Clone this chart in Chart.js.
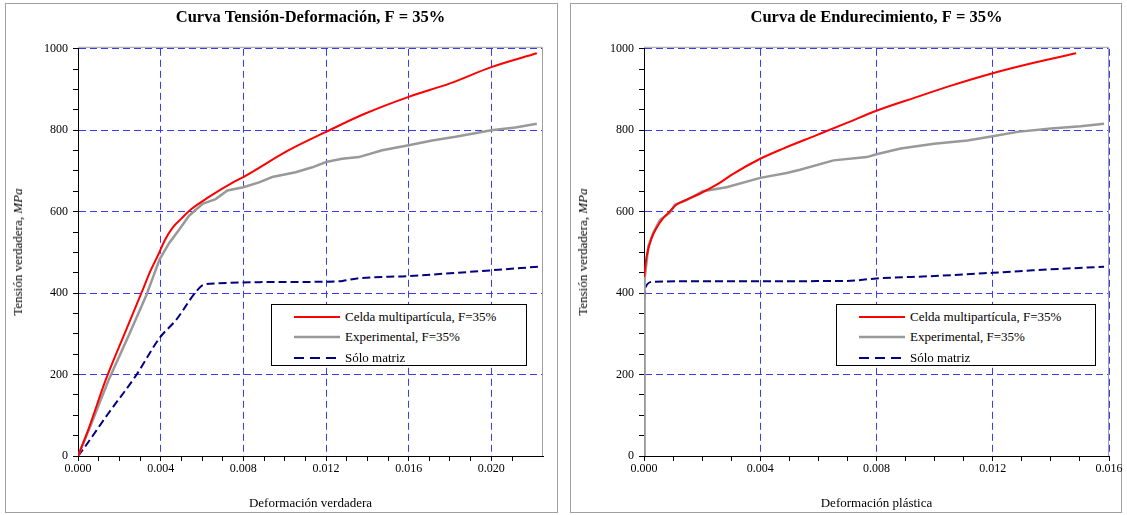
<!DOCTYPE html>
<html>
<head>
<meta charset="utf-8">
<script src="https://cdn.jsdelivr.net/npm/chart.js@4.4.1/dist/chart.umd.min.js"></script>
<style>
  body { margin: 0; background: #fff; width: 1127px; height: 515px; position: relative; overflow: hidden;
         font-family: "Liberation Serif", "Times New Roman", serif; color: #000; }
  .panel { position: absolute; border: 1px solid #a0a0a0; box-sizing: border-box; }
  canvas { position: absolute; }
  .ytitle { position: absolute; font-size: 13px; white-space: nowrap; transform: translate(-50%, -50%) rotate(-90deg); }
  .legend { position: absolute; border: 1px solid #000; box-sizing: border-box; background: #fff; font-size: 13px; }
  .legend .row { position: absolute; left: 0; right: 0; height: 20px; line-height: 20px; white-space: nowrap; }
</style>
</head>
<body>
<div class="panel" style="left:5px;top:3px;width:553px;height:510px"></div>
<div class="panel" style="left:570px;top:3px;width:552px;height:510px"></div>
<canvas id="c1" width="551" height="508" style="left:6px;top:4px"></canvas>
<canvas id="c2" width="556" height="508" style="left:571px;top:4px"></canvas>
<div class="ytitle" style="left:18px;top:252px">Tensión verdadera, <i>MPa</i></div>
<div class="ytitle" style="left:583px;top:252px">Tensión verdadera, <i>MPa</i></div>
<div class="legend" id="lg1" style="left:271px;top:304px;width:256px;height:62px"></div>
<div class="legend" id="lg2" style="left:836px;top:304px;width:260px;height:62px"></div>

<script>
// --- Curva Tensión-Deformación (deformación verdadera, MPa) ---
const tdCeldaX = [0, 0.0005, 0.00135, 0.0023, 0.0031, 0.0035, 0.0039, 0.0042, 0.0046, 0.005, 0.0055, 0.0063, 0.0075, 0.008, 0.0102, 0.012, 0.0139, 0.016, 0.018, 0.020, 0.0222];
const tdCeldaY = [0, 65, 188, 306, 404, 454, 496, 530, 562, 583, 607, 635, 672, 685, 751, 796, 841, 882, 915, 955, 989];

const tdExpX = [0, 0.00062, 0.00151, 0.00249, 0.0033, 0.00395, 0.0044, 0.00497, 0.00537, 0.00602, 0.00666, 0.00723, 0.008, 0.00876, 0.0094, 0.01053, 0.01134, 0.012, 0.01278, 0.01359, 0.01472, 0.016, 0.01714, 0.01827, 0.020, 0.02116, 0.0222];
const tdExpY = [0, 76, 190, 300, 394, 483, 522, 561, 590, 619, 631, 652, 660, 672, 685, 697, 709, 722, 730, 734, 751, 763, 775, 784, 800, 807, 816];

const tdMatrizX = [0, 0.0003, 0.00143, 0.00281, 0.00395, 0.00476, 0.00566, 0.00606, 0.00672, 0.00883, 0.012, 0.0128, 0.0135, 0.016, 0.020, 0.0223];
const tdMatrizY = [0, 20, 102, 198, 290, 335, 400, 420, 424, 427, 428, 430, 436, 442, 456, 465];

// --- Curva de Endurecimiento (deformación plástica, MPa) ---
const endCeldaX = [0, 0.00009, 0.00026, 0.00043, 0.00066, 0.00089, 0.00111, 0.00145, 0.00192, 0.00259, 0.00307, 0.004, 0.00479, 0.00594, 0.00698, 0.008, 0.0094, 0.01054, 0.012, 0.01338, 0.01487];
const endCeldaY = [440, 490, 535, 560, 584, 601, 617, 629, 644, 670, 693, 730, 755, 788, 818, 848, 882, 909, 940, 965, 989];

const endExpX = [0, 0.00001, 0.00003, 0.00015, 0.00032, 0.00055, 0.00089, 0.00106, 0.00145, 0.00202, 0.00284, 0.004, 0.00491, 0.00537, 0.00652, 0.00767, 0.008, 0.00883, 0.00998, 0.01113, 0.012, 0.01285, 0.014, 0.01503, 0.01583];
const endExpY = [0, 200, 433, 515, 548, 580, 597, 617, 628, 650, 660, 683, 695, 703, 726, 734, 741, 755, 767, 775, 785, 796, 804, 810, 816];

const endMatrizX = [0, 0.00009, 0.00032, 0.00192, 0.00698, 0.008, 0.010, 0.012, 0.01338, 0.01583];
const endMatrizY = [385, 420, 428, 429, 430, 436, 442, 450, 456, 465];

const seriesLabels = ['Celda multipartícula, F=35%', 'Experimental, F=35%', 'Sólo matriz'];
const yTickLabels = [0, 200, 400, 600, 800, 1000];

const FONT = '"Liberation Serif", "Times New Roman", serif';
const GRID_BLUE = '#3a3aff';
const NONE = 'rgba(0,0,0,0)';

function zip(xs, ys) { return xs.map((x, i) => ({ x: x, y: ys[i] })); }
function isMult(v, step) { const r = v / step; return Math.abs(r - Math.round(r)) < 1e-6; }

// gray plot-area frame (top and right sides), like the spreadsheet plot area
const plotFrame = {
  id: 'plotFrame',
  beforeDatasetsDraw(chart) {
    const { ctx, chartArea: a } = chart;
    ctx.save();
    ctx.strokeStyle = '#a0a0a0';
    ctx.lineWidth = 1;
    ctx.beginPath();
    ctx.moveTo(a.left, a.top - 1.5);
    ctx.lineTo(a.right - 0.5, a.top - 1.5);
    ctx.lineTo(a.right - 0.5, a.bottom);
    ctx.stroke();
    ctx.restore();
  }
};

function makeChart(id, title, xTitle, xMax, padRight, sets) {
  const colors = ['#ff0000', '#999999', '#000080'];
  const widths = [2, 2.5, 2];
  const dashes = [[], [], [8, 4]];
  return new Chart(document.getElementById(id), {
    type: 'scatter',
    data: {
      datasets: sets.map((s, i) => ({
        label: seriesLabels[i],
        data: zip(s[0], s[1]),
        showLine: true,
        borderColor: colors[i],
        backgroundColor: colors[i],
        borderWidth: widths[i],
        borderDash: dashes[i],
        pointRadius: 0,
        cubicInterpolationMode: i === 1 ? 'default' : 'monotone',
        tension: i === 1 ? 0 : 0.4
      }))
    },
    options: {
      responsive: false,
      animation: false,
      layout: { padding: { left: 0, right: padRight, top: 0, bottom: 0 } },
      plugins: {
        legend: { display: false },
        tooltip: { enabled: false },
        title: {
          display: true, text: title, fullSize: false, color: '#000',
          font: { family: FONT, size: 16.5, weight: 'bold' },
          padding: { top: 4, bottom: 21 }
        }
      },
      scales: {
        x: {
          type: 'linear', min: 0, max: xMax,
          afterBuildTicks: s => { s.ticks = s.ticks.filter(t => isMult(t.value, 0.001)); },
          afterFit: s => { s.height = 56; s.paddingLeft = 0; s.paddingRight = 0; },
          ticks: {
            stepSize: 0.001, autoSkip: false, maxRotation: 0, padding: 1, color: '#000',
            font: { family: FONT, size: 12 },
            callback: v => isMult(v, 0.004) ? v.toFixed(3) : ''
          },
          grid: {
            color: c => (c.tick && c.tick.value > 0 && isMult(c.tick.value, 0.004)) ? GRID_BLUE : NONE,
            tickColor: '#000', tickLength: 5, lineWidth: 1
          },
          border: { color: '#000', width: 1, dash: [7, 4] },
          title: { display: true, text: xTitle, color: '#000', font: { family: FONT, size: 13 }, padding: { top: 0, bottom: 1 } }
        },
        y: {
          min: 0, max: 1000,
          afterBuildTicks: s => { s.ticks = s.ticks.filter(t => isMult(t.value, 50)); },
          afterFit: s => { s.width = id === 'c1' ? 72 : 73; },
          ticks: {
            stepSize: 50, autoSkip: false, padding: 5, color: '#000',
            font: { family: FONT, size: 12 },
            callback: v => yTickLabels.includes(v) ? String(v) : ''
          },
          grid: {
            color: c => (c.tick && c.tick.value > 0 && yTickLabels.includes(c.tick.value)) ? GRID_BLUE : NONE,
            tickColor: '#000', tickLength: 5, lineWidth: 1
          },
          border: { color: '#000', width: 1, dash: [7, 4] }
        }
      }
    },
    plugins: [plotFrame]
  });
}

function buildLegend(chart, id) {
  const box = document.getElementById(id);
  chart.data.datasets.forEach((ds, i) => {
    const row = document.createElement('div');
    row.className = 'row';
    row.style.top = (1.5 + i * 20.5) + 'px';
    const dash = ds.borderDash && ds.borderDash.length ? '10,6' : 'none';
    row.innerHTML = '<svg width="48" height="20" style="position:absolute;left:22px;top:0">' +
      '<line x1="0" y1="10" x2="46" y2="10" stroke="' + ds.borderColor + '" stroke-width="' + ds.borderWidth +
      '" stroke-dasharray="' + dash + '"/></svg>' +
      '<span style="position:absolute;left:73px;top:0">' + ds.label + '</span>';
    box.appendChild(row);
  });
}

const chart1 = makeChart('c1', 'Curva Tensión-Deformación, F = 35%', 'Deformación verdadera', 0.0225, 14,
  [[tdCeldaX, tdCeldaY], [tdExpX, tdExpY], [tdMatrizX, tdMatrizY]]);
const chart2 = makeChart('c2', 'Curva de Endurecimiento, F = 35%', 'Deformación plástica', 0.016, 18,
  [[endCeldaX, endCeldaY], [endExpX, endExpY], [endMatrizX, endMatrizY]]);
buildLegend(chart1, 'lg1');
buildLegend(chart2, 'lg2');
</script>
</body>
</html>
